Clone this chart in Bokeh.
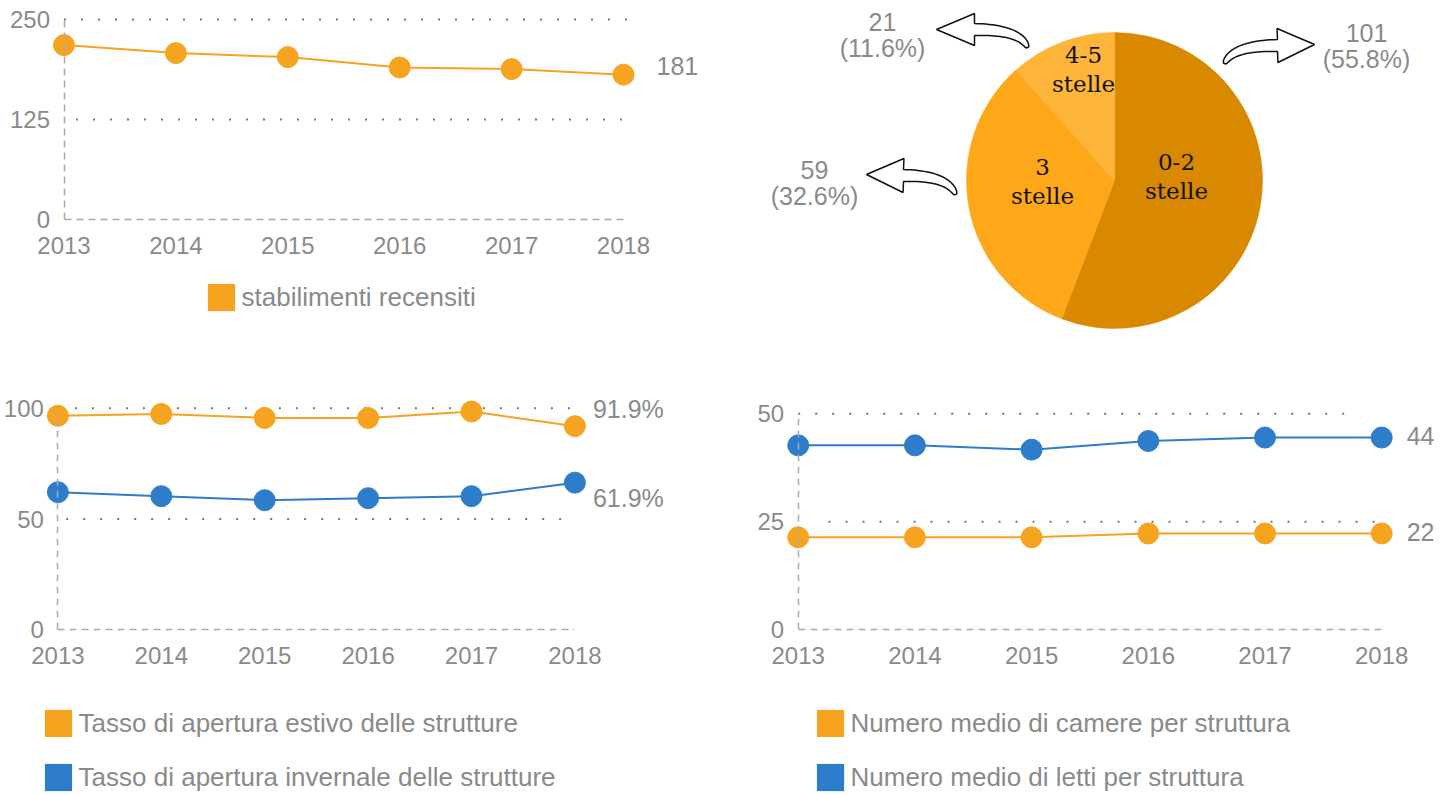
import math
from bokeh.plotting import figure
from bokeh.models import (Range1d, FixedTicker, Label, Legend, LegendItem, ColumnDataSource,
                          LinearAxis)
from bokeh.layouts import column, row
from bokeh.embed import file_html
from bokeh.resources import INLINE
from bokeh.core.properties import value

# ---------------- data ----------------
years = [2013, 2014, 2015, 2016, 2017, 2018]
year_labels = ["2013", "2014", "2015", "2016", "2017", "2018"]

stabilimenti = [218, 208, 203, 190, 188, 181]
stabilimenti_name = "stabilimenti recensiti"
stabilimenti_end = "181"
stab_ticks = [0, 125, 250]

tasso_estivo = [96.6, 97.4, 95.6, 95.6, 98.5, 91.9]
tasso_invernale = [62.1, 60.3, 58.5, 59.4, 60.3, 66.4]
tasso_names = ["Tasso di apertura estivo delle strutture",
               "Tasso di apertura invernale delle strutture"]
tasso_end = ["91.9%", "61.9%"]
tasso_ticks = [0, 50, 100]

camere = [21.4, 21.4, 21.4, 22.3, 22.3, 22.3]
letti = [42.7, 42.7, 41.7, 43.7, 44.5, 44.5]
medie_names = ["Numero medio di camere per struttura",
               "Numero medio di letti per struttura"]
medie_end = ["22", "44"]
medie_ticks = [0, 25, 50]

stelle_labels = ["0-2\nstelle", "3\nstelle", "4-5\nstelle"]
stelle_counts = [101, 59, 21]
stelle_pct = [55.8, 32.6, 11.6]

# ---------------- styles ----------------
ORANGE = "#F6A31F"
BLUE = "#2E7DCB"
GRAY = "#8a8a8a"
PIE_COLORS = ["#D88900", "#FEA718", "#FFB43A"]
FONT = "Liberation Sans"
W_L, W_R, H_T, H_B = 725, 725, 350, 444
NAN = float("nan")


def line_panel(width, height, x_range, y_range, yticks, grid_spans):
    p = figure(width=width, height=height, title=None,
               x_range=Range1d(*x_range), y_range=Range1d(*y_range),
               output_backend="svg", toolbar_location=None, min_border=0,
               x_axis_location=None, y_axis_location=None)
    p.outline_line_color = None
    p.background_fill_color = "white"
    p.border_fill_color = "white"
    p.grid.visible = False
    # dotted horizontal gridlines at the non-zero ticks
    gt = yticks[1:]
    p.segment(x0=[s[0] for s in grid_spans], x1=[s[1] for s in grid_spans], y0=gt, y1=gt,
              line_color="#777777", line_width=2, line_dash="2 15")
    xa = LinearAxis(ticker=FixedTicker(ticks=years),
                    major_label_overrides=dict(zip(years, year_labels)),
                    fixed_location=0, bounds=(years[0], years[-1]),
                    major_label_standoff=11)
    ya = LinearAxis(ticker=FixedTicker(ticks=yticks), fixed_location=years[0],
                    bounds=(yticks[0], yticks[-1]), major_label_standoff=8)
    for ax in (xa, ya):
        ax.axis_line_color = "#ababab"
        ax.axis_line_width = 1.5
        ax.axis_line_dash = "7 5"
        ax.major_tick_line_color = None
        ax.minor_tick_line_color = None
        ax.major_label_text_font = FONT
        ax.major_label_text_font_size = "24px"
        ax.major_label_text_color = GRAY
    p.add_layout(xa, "below")
    p.add_layout(ya, "left")
    return p


def series(p, ys, color):
    src = ColumnDataSource(dict(x=years, y=ys))
    p.line("x", "y", source=src, line_color=color, line_width=2)
    p.scatter("x", "y", source=src, size=21, fill_color=color, line_color=color)


def end_label(p, y, text, dx, dy):
    p.add_layout(Label(x=years[-1], y=y, text=text, x_offset=dx, y_offset=dy,
                       text_font=FONT, text_font_size="25px", text_color=GRAY,
                       text_align="left", text_baseline="middle"))


def legend(p, names, colors, loc, spacing):
    items = []
    for n, c in zip(names, colors):
        # swatch renderer for the legend only (nothing drawn in the plot area)
        r = p.quad(left=[NAN], right=[NAN], top=[NAN], bottom=[NAN],
                   fill_color=c, line_color=None)
        items.append(LegendItem(label=n, renderers=[r]))
    lg = Legend(items=items, location=loc, orientation="vertical",
                border_line_alpha=0, background_fill_alpha=0, padding=0, margin=0,
                spacing=spacing, glyph_width=34, glyph_height=34, label_standoff=4,
                label_text_font=FONT, label_text_font_size="26px", label_text_color=GRAY)
    p.add_layout(lg)


# ---------------- panel 1 ----------------
p1 = line_panel(W_L, H_T, (2012.4325, 2018.9115), (-163.75, 273.75), stab_ticks,
                [(2013.107, 2018.12), (2013.0, 2018.152)])
series(p1, stabilimenti, ORANGE)
end_label(p1, stabilimenti[-1], stabilimenti_end, 33, 9)
legend(p1, [stabilimenti_name], [ORANGE], (203.6, 36), 0)

# ---------------- panel 3 ----------------
p3 = line_panel(W_L, H_B, (2012.4449, 2019.4565), (-74.32, 126.04), tasso_ticks,
                [(2013.08, 2018.0), (2013.0, 2018.0)])
series(p3, tasso_estivo, ORANGE)
series(p3, tasso_invernale, BLUE)
end_label(p3, tasso_estivo[-1], tasso_end[0], 18, 17)
end_label(p3, tasso_invernale[-1], tasso_end[1], 18, -15)
legend(p3, tasso_names, [ORANGE, BLUE], (40.6, 0), 20)

# ---------------- panel 4 ----------------
p4 = line_panel(W_R, H_B, (2012.377, 2018.5895), (-38.125, 64.653), medie_ticks,
                [(2013.26, 2018.0), (2013.0, 2017.79)])
series(p4, letti, BLUE)
series(p4, camere, ORANGE)
end_label(p4, camere[-1], medie_end[0], 25, 1)
end_label(p4, letti[-1], medie_end[1], 25, 2)
legend(p4, medie_names, [ORANGE, BLUE], (87.6, 0), 20)

# ---------------- pie ----------------
pie = figure(width=W_R, height=H_T, title=None, x_range=Range1d(0, W_R),
             y_range=Range1d(0, H_T), output_backend="svg", toolbar_location=None,
             min_border=0, x_axis_location=None, y_axis_location=None)
pie.grid.visible = False
pie.outline_line_color = None
CX, CY, R = 389, 170, 148
total = sum(stelle_counts)
starts, ends = [], []
acc = 0
for c in stelle_counts:
    a0 = math.pi / 2 - 2 * math.pi * acc / total
    acc += c
    a1 = math.pi / 2 - 2 * math.pi * acc / total
    starts.append(a0)
    ends.append(a1)
wsrc = ColumnDataSource(dict(start=starts, end=ends, color=PIE_COLORS))
pie.wedge(x=CX, y=CY, radius=R, start_angle="start", end_angle="end", direction="clock",
          fill_color="color", line_color="color", line_width=0.5, source=wsrc)

inner_pos = [(451, 174), (317, 169), (358, 281)]
pie.text(x=[q[0] for q in inner_pos], y=[q[1] for q in inner_pos], text=stelle_labels,
         text_font=value("DejaVu Serif"), text_font_size="23px", text_color="#111111",
         text_align="center", text_baseline="middle", text_line_height=1.1)

outer_pos = [(641, 304.5), (89, 167.5), (157, 315.5)]
outer_txt = [f"{c}\n({p:.1f}%)" for c, p in zip(stelle_counts, stelle_pct)]
pie.text(x=[q[0] for q in outer_pos], y=[q[1] for q in outer_pos], text=outer_txt,
         text_font=value(FONT), text_font_size="25px", text_color=GRAY,
         text_align="center", text_baseline="middle", text_line_height=0.95)


def arrow(tail, ctrl, base, tip, w, hh):
    # decoration: coordinates given in page pixels, converted to the pie's data space
    def conv(pt):
        return (pt[0] - 725.0, 350.0 - pt[1])
    tail, ctrl, base, tip = conv(tail), conv(ctrl), conv(base), conv(tip)
    left, right = [], []
    n = 24
    for i in range(n + 1):
        t = i / n
        bx = (1 - t) ** 2 * tail[0] + 2 * (1 - t) * t * ctrl[0] + t ** 2 * base[0]
        by = (1 - t) ** 2 * tail[1] + 2 * (1 - t) * t * ctrl[1] + t ** 2 * base[1]
        dx = 2 * (1 - t) * (ctrl[0] - tail[0]) + 2 * t * (base[0] - ctrl[0])
        dy = 2 * (1 - t) * (ctrl[1] - tail[1]) + 2 * t * (base[1] - ctrl[1])
        L = math.hypot(dx, dy) or 1
        nx, ny = -dy / L, dx / L
        ww = w * (0.2 + 0.8 * t ** 0.5) / 2
        left.append((bx + nx * ww, by + ny * ww))
        right.append((bx - nx * ww, by - ny * ww))
    dx, dy = tip[0] - base[0], tip[1] - base[1]
    L = math.hypot(dx, dy)
    nx, ny = -dy / L, dx / L
    pts = left + [(base[0] + nx * hh, base[1] + ny * hh), tip,
                  (base[0] - nx * hh, base[1] - ny * hh)] + right[::-1]
    pie.patch([q[0] for q in pts], [q[1] for q in pts], fill_color="white",
              line_color="#111111", line_width=1.5)


arrow((1224, 63), (1232, 45), (1277, 45), (1314, 44), 12, 17)
arrow((1027, 47), (1020, 29), (974, 29), (936, 29), 12, 16)
arrow((955, 194), (948, 175), (903, 175), (866, 174), 12, 17)

layout = column(row(p1, pie, spacing=0), row(p3, p4, spacing=0), spacing=0)
open("out.html", "w").write(file_html(layout, INLINE))
